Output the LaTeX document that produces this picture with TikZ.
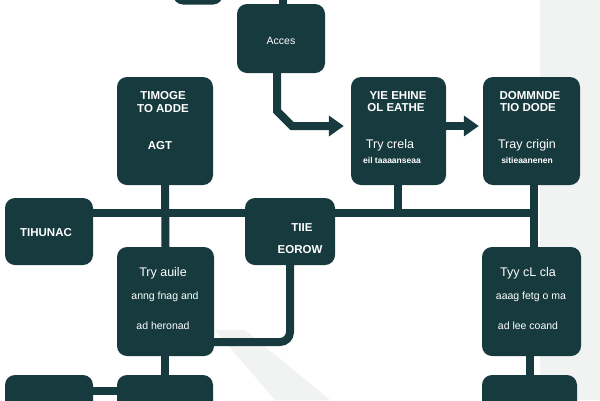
\documentclass[tikz,border=0pt]{standalone}
\usepackage{fontspec}
\setmainfont{Liberation Sans}
\usetikzlibrary{arrows.meta,backgrounds}
\definecolor{boxc}{HTML}{173A3E}
\definecolor{bgg}{HTML}{F1F2F2}
\tikzset{
  box/.style={fill=boxc, rounded corners=10pt, inner sep=0pt, text=white, align=center},
  conn/.style={draw=boxc, line width=8pt},
  arr/.style={conn, -{Triangle[length=15pt,width=20pt]}},
  hd/.style={font=\fontsize{11.5}{12}\selectfont\bfseries, text=white},
  md/.style={font=\fontsize{12.5}{13}\selectfont, text=white},
  sm/.style={font=\fontsize{10.5}{11}\selectfont, text=white},
  tiny/.style={font=\fontsize{8.5}{9}\selectfont\bfseries, text=white},
}
\begin{document}
\begin{tikzpicture}[x=1pt,y=-1pt]
\useasboundingbox (0,0) rectangle (600,400);
% boxes
\node[box, minimum width=50pt, minimum height=25pt] (T) at (198,-8) {};
\node[box, minimum width=88pt, minimum height=69pt] (A) at (281,38.5) {};
\node[box, minimum width=96pt, minimum height=108pt] (B) at (165,131) {};
\node[box, minimum width=95pt, minimum height=108pt] (C) at (398.5,131) {};
\node[box, minimum width=97pt, minimum height=108pt] (D) at (531.5,131) {};
\node[box, minimum width=88pt, minimum height=67pt] (E) at (49,231.5) {};
\node[box, minimum width=90pt, minimum height=67pt] (F) at (290,231.5) {};
\node[box, minimum width=97pt, minimum height=109pt] (G) at (165.5,301.5) {};
\node[box, minimum width=99pt, minimum height=109pt] (H) at (531.5,301.5) {};
\node[box, minimum width=88pt, minimum height=45pt] (I) at (49,397.5) {};
\node[box, minimum width=96pt, minimum height=45pt] (J) at (165,397.5) {};
\node[box, minimum width=95pt, minimum height=45pt] (K) at (529.5,397.5) {};
% texts
\node[sm] (tA) at (281,41) {Acces};
\node[hd] (tB1) at (163,96) {TIMOGE};
\node[hd] (tB2) at (163,109) {TO ADDE};
\node[hd] (tB3) at (160,146) {AGT};
\node[hd] (tC1) at (398,96) {YIE EHINE};
\node[hd] (tC2) at (396,108) {OL EATHE};
\node[md] (tC3) at (390,145) {Try crela};
\node[tiny] (tC4) at (392,160) {eil taaaanseaa};
\node[hd] (tD1) at (530,96) {DOMMNDE};
\node[hd] (tD2) at (528,108) {TIO DODE};
\node[md] (tD3) at (527,145) {Tray crigin};
\node[tiny] (tD4) at (527,160) {sitieaanenen};
\node[hd] (tE) at (46,233) {TIHUNAC};
\node[hd] (tF1) at (302,228) {TIIE};
\node[hd] (tF2) at (300,250) {EOROW};
\node[md] (tG1) at (163,273) {Try auile};
\node[sm] (tG2) at (165,297) {anng fnag and};
\node[sm] (tG3) at (163,326) {ad heronad};
\node[md] (tH1) at (528,273) {Tyy cL cla};
\node[sm] (tH2) at (531,297) {aaag fetg o ma};
\node[sm] (tH3) at (528,326) {ad lee coand};
% connectors
\coordinate (topA) at (283,-10);
\coordinate (jn) at (534,213);
\coordinate (low) at (290,342);
\begin{scope}[on background layer]
  \fill[white] (0,0) rectangle (600,400);
  \fill[bgg] (540,0) rectangle (600,400);
  \fill[bgg] (215,330) -- (245,330) -- (330,400) -- (275,400) -- cycle;
  \draw[conn] (A.north -| topA) -- (topA);
  \draw[arr, shorten >=7pt] (A.south -| 277,0) -- (277,111) -- (292,126) -- (C.west |- 0,126);
  \draw[arr, shorten >=4pt] (C.east |- 0,126) -- (D.west |- 0,126);
  \draw[conn] (B.south) -- (G.north);
  \draw[conn] (E.east |- jn) -- (jn);
  \draw[conn] (C.south -| 398,0) -- (398,213);
  \draw[conn] (D.south -| jn) -- (H.north -| jn);
  \draw[conn, rounded corners=10pt] (F.south) -- (low) -- (G.east |- low);
  \draw[conn] (G.south -| J.north) -- (J.north);
  \draw[conn] (H.south -| K.north) -- (K.north);
  \draw[conn] (I.east |- 0,391) -- (J.west |- 0,391);
\end{scope}
\end{tikzpicture}
\end{document}
